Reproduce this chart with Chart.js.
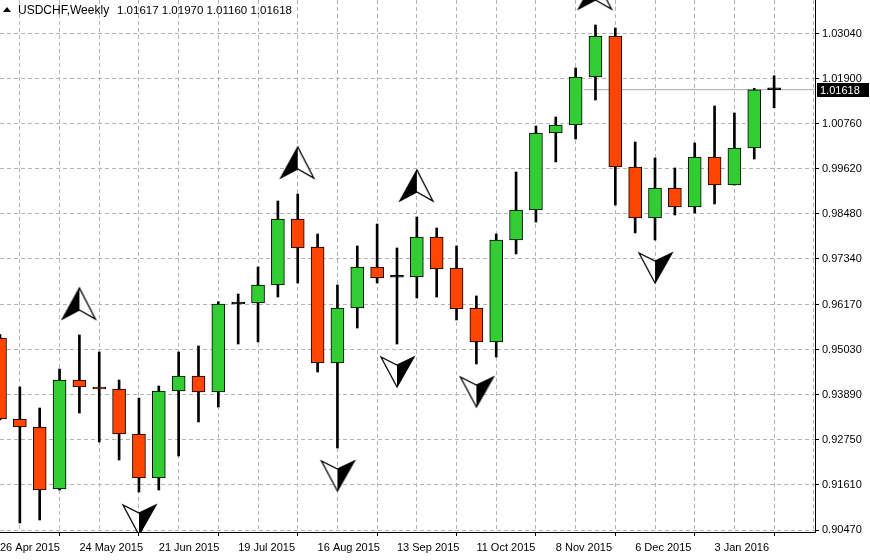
<!DOCTYPE html>
<html>
<head>
<meta charset="utf-8">
<script src="https://cdn.jsdelivr.net/npm/chart.js@4"></script>
<style>
  body { margin: 0; background: #fff; }
  canvas { display: block; }
</style>
</head>
<body>
<canvas id="chart" width="870" height="560"></canvas>
<script>
// --- dados semanais USDCHF ---
const symbolTitle = 'USDCHF,Weekly';
const dateLabels = ['26 Apr 2015', '24 May 2015', '21 Jun 2015', '19 Jul 2015', '16 Aug 2015',
    '13 Sep 2015', '11 Oct 2015', '8 Nov 2015', '6 Dec 2015', '3 Jan 2016'];

const opens = [0.95331, 0.93281, 0.93078, 0.91509, 0.94268, 0.94091, 0.94040, 0.92901, 0.91787, 0.93990,
    0.94369, 0.93964, 0.96192, 0.96217, 0.96673, 0.98344, 0.97635, 0.94698, 0.96091, 0.97129,
    0.96876, 0.96876, 0.97888, 0.97103, 0.96091, 0.95230, 0.97812, 0.98572, 1.00521, 1.00724,
    1.01939, 1.02977, 0.99660, 0.98369, 0.99129, 0.98648, 0.99913, 0.99205, 1.00141, 1.01617];
const highs = [0.95420, 0.94091, 0.93559, 0.94546, 0.95407, 0.94977, 0.94268, 0.93812, 0.94116, 0.94977,
    0.95129, 0.96250, 0.96445, 0.97129, 0.98800, 0.98977, 0.97964, 0.96673, 0.97660, 0.98217,
    0.97610, 0.98395, 0.98116, 0.97660, 0.96395, 0.97964, 0.99534, 1.00698, 1.00926, 1.02167,
    1.03255, 1.03179, 1.00293, 0.99888, 0.99635, 1.00268, 1.01205, 1.01027, 1.01650, 1.01970];
const lows = [0.93255, 0.90648, 0.90724, 0.91483, 0.93433, 0.92698, 0.92243, 0.91433, 0.91483, 0.92344,
    0.93205, 0.93584, 0.95179, 0.95230, 0.96369, 0.96724, 0.94470, 0.92547, 0.95584, 0.96724,
    0.95179, 0.96344, 0.96369, 0.95787, 0.94673, 0.94850, 0.97458, 0.98268, 0.99787, 1.00369,
    1.01356, 0.98698, 0.97990, 0.97812, 0.98445, 0.98496, 0.98724, 0.99205, 0.99863, 1.01160];
const closes = [0.93281, 0.93078, 0.91483, 0.94268, 0.94091, 0.94040, 0.92901, 0.91787, 0.93990, 0.94369,
    0.93964, 0.96192, 0.96200, 0.96673, 0.98344, 0.97610, 0.94698, 0.96091, 0.97129, 0.96850,
    0.96870, 0.97888, 0.97078, 0.96065, 0.95230, 0.97812, 0.98572, 1.00521, 1.00724, 1.01939,
    1.02977, 0.99660, 0.98369, 0.99129, 0.98648, 0.99913, 0.99205, 1.00141, 1.01617, 1.01618];

// fractais (índices das velas)
const upFractals = [4, 15, 21, 30];
const downFractals = [7, 17, 20, 24, 33];

const priceTicks = [1.03040, 1.01900, 1.00760, 0.99620, 0.98480, 0.97340, 0.96170,
    0.95030, 0.93890, 0.92750, 0.91610, 0.90470];

const lastIdx = closes.length - 1;
const lastPrice = closes[lastIdx];

// --- cores ---
const bullColor = '#32cd32';
const bearColor = '#ff4500';
const gridColor = '#b4b4b4';
const fontFamily = "'Liberation Sans', Arial, sans-serif";

const wickData = highs.map((h, i) => ({ x: i, y: [lows[i], h] }));
const bodyData = opens.map((o, i) => ({ x: i, y: [o, closes[i]] }));
const bodyColors = opens.map((o, i) => {
    if (Math.abs(closes[i] - o) < 0.0002) return '#000';
    return closes[i] >= o ? bullColor : bearColor;
});

// setas dos fractais desenhadas num canvas próprio
function makeArrow(dir) {
    const c = document.createElement('canvas');
    c.width = 40;
    c.height = 100;
    const g = c.getContext('2d');
    g.translate(20, 50);
    const up = dir === 'up';
    const tip = up ? -47 : 43;
    const base = up ? -16 : 13;
    const notch = up ? -25 : 21;
    const fx = up ? -1 : 1;
    g.lineJoin = 'miter';
    g.beginPath();
    g.moveTo(0, tip);
    g.lineTo(fx * 17, base);
    g.lineTo(0, notch);
    g.lineTo(-fx * 16, base);
    g.closePath();
    g.fillStyle = '#fff';
    g.fill();
    g.lineWidth = 1.3;
    g.strokeStyle = '#000';
    g.stroke();
    g.beginPath();
    g.moveTo(0, tip);
    g.lineTo(fx * 17, base);
    g.lineTo(0, notch);
    g.closePath();
    g.fillStyle = '#000';
    g.fill();
    return c;
}
const upArrow = makeArrow('up');
const downArrow = makeArrow('down');

// título e etiqueta do preço atual
const overlayPlugin = {
    id: 'overlay',
    afterDraw(chart) {
        const ctx = chart.ctx;
        const yScale = chart.scales.y;
        ctx.save();
        // triângulo pequeno
        ctx.fillStyle = '#000';
        ctx.beginPath();
        ctx.moveTo(3, 12);
        ctx.lineTo(11, 12);
        ctx.lineTo(7, 7);
        ctx.closePath();
        ctx.fill();
        ctx.font = '12px ' + fontFamily;
        ctx.textBaseline = 'alphabetic';
        ctx.fillText(symbolTitle, 18, 14);
        const ohlc = [opens[lastIdx], highs[lastIdx], lows[lastIdx], closes[lastIdx]]
            .map(v => v.toFixed(5)).join(' ');
        ctx.font = '11.5px ' + fontFamily;
        ctx.fillText(ohlc, 117, 14);

        const y = yScale.getPixelForValue(lastPrice);
        ctx.font = '11px ' + fontFamily;
        ctx.fillStyle = '#000';
        ctx.fillRect(chart.chartArea.right + 2, Math.round(y) - 7, 52, 14);
        ctx.fillStyle = '#fff';
        ctx.textBaseline = 'middle';
        ctx.fillText(lastPrice.toFixed(5), chart.chartArea.right + 5, Math.round(y) + 0.5);
        ctx.restore();
    }
};

const ctx = document.getElementById('chart').getContext('2d');
const chart = new Chart(ctx, {
    type: 'bar',
    data: {
        datasets: [
            {
                type: 'line',
                data: [{ x: 29.4, y: lastPrice }, { x: 41.06, y: lastPrice }],
                borderColor: '#a8a8a8',
                borderWidth: 1,
                pointRadius: 0,
                order: 4
            },
            {
                data: wickData,
                backgroundColor: '#000',
                borderWidth: 0,
                barThickness: 2,
                grouped: false,
                order: 3
            },
            {
                data: bodyData,
                backgroundColor: bodyColors,
                borderColor: '#000',
                borderWidth: 1,
                borderSkipped: false,
                barThickness: 13,
                minBarLength: 2,
                grouped: false,
                order: 2
            },
            {
                type: 'scatter',
                data: upFractals.map(i => ({ x: i, y: highs[i] })),
                pointStyle: upArrow,
                pointRadius: 1,
                order: 1
            },
            {
                type: 'scatter',
                data: downFractals.map(i => ({ x: i, y: lows[i] })),
                pointStyle: downArrow,
                pointRadius: 1,
                order: 1
            }
        ]
    },
    options: {
        responsive: false,
        animation: false,
        layout: { padding: 0, autoPadding: false },
        plugins: {
            legend: { display: false },
            tooltip: { enabled: false }
        },
        scales: {
            x: {
                type: 'linear',
                offset: false,
                min: 0,
                max: 41.06,
                afterBuildTicks: scale => {
                    const t = [];
                    for (let i = 0; i <= 40; i += 2) t.push({ value: i });
                    scale.ticks = t;
                },
                afterFit: scale => {
                    scale.height = 28;
                    scale.paddingLeft = 0;
                    scale.paddingRight = 0;
                },
                ticks: {
                    autoSkip: false,
                    maxRotation: 0,
                    align: 'start',
                    padding: 5,
                    color: '#000',
                    font: { family: fontFamily, size: 11 },
                    callback: value => (value % 4 === 0 && dateLabels[value / 4]) ? dateLabels[value / 4] : ''
                },
                grid: {
                    color: c => (c.tick && c.tick.value === 0) ? 'rgba(0,0,0,0)' : gridColor,
                    lineWidth: 1,
                    tickLength: 4,
                    tickColor: c => (c.tick && c.tick.value % 4 === 0) ? '#000' : 'rgba(0,0,0,0)'
                },
                border: { color: '#000', width: 1, dash: [4, 3] }
            },
            y: {
                type: 'linear',
                position: 'right',
                min: 0.90420,
                max: 1.03888,
                afterBuildTicks: scale => {
                    scale.ticks = priceTicks.map(v => ({ value: v }));
                },
                afterFit: scale => {
                    scale.width = 55;
                    scale.paddingTop = 0;
                    scale.paddingBottom = 0;
                },
                ticks: {
                    padding: 3,
                    color: '#000',
                    font: { family: fontFamily, size: 11 },
                    callback: value => Number(value).toFixed(5)
                },
                grid: {
                    color: gridColor,
                    lineWidth: 1,
                    tickLength: 4,
                    tickColor: '#000'
                },
                border: { color: '#000', width: 1, dash: [4, 3] }
            }
        }
    },
    plugins: [overlayPlugin]
});
</script>
</body>
</html>
